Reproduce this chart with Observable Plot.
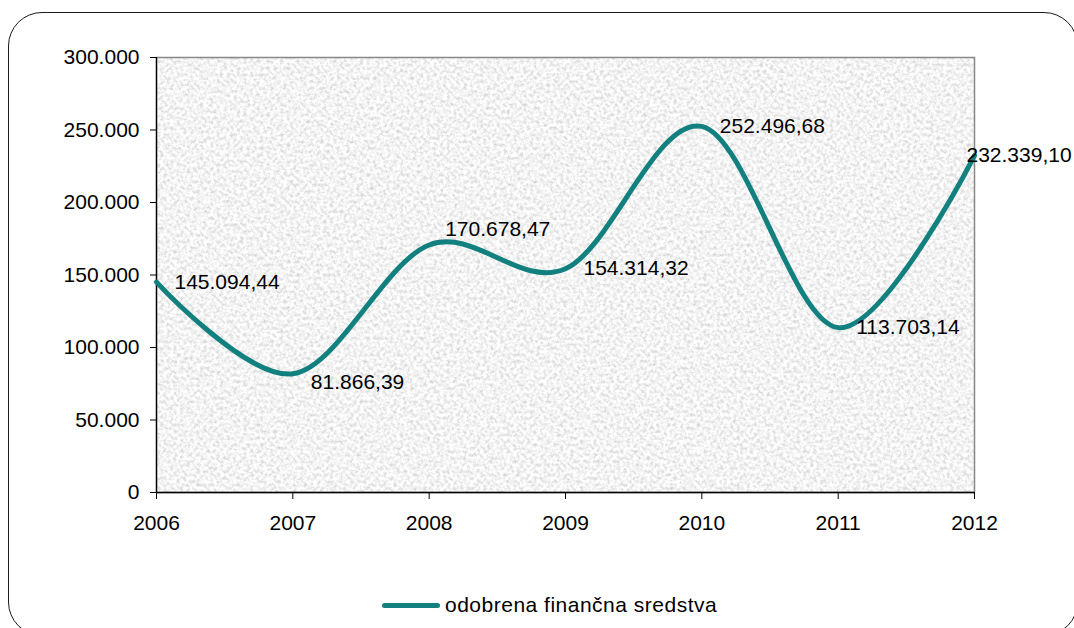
<!DOCTYPE html>
<html>
<head>
<meta charset="utf-8">
<script src="https://cdn.jsdelivr.net/npm/d3@7"></script>
<script src="https://cdn.jsdelivr.net/npm/@observablehq/plot@0.6"></script>
<style>
  html, body { margin: 0; padding: 0; background: #fff; overflow: hidden; }
  body { width: 1074px; height: 628px; position: relative; font-family: "Liberation Sans", Arial, sans-serif; }
  #border { position: absolute; left: 8px; top: 12px; width: 1070px; height: 624px; box-sizing: border-box;
            border: 1.5px solid #1a1a1a; border-radius: 34px; }
  #chart { position: absolute; left: 0; top: 0; }
  #legend { position: absolute; left: 382px; top: 590px; height: 30px; display: flex; align-items: center;
            font-size: 21px; color: #000; letter-spacing: 0.5px; }
  #legend .swatch { width: 58px; height: 5px; border-radius: 3px; margin-right: 5px; }
</style>
</head>
<body>
<div id="border"></div>
<div id="chart"></div>
<div id="legend"></div>
<script>
// ---- data ----
const years = [2006, 2007, 2008, 2009, 2010, 2011, 2012];
const values = [145094.44, 81866.39, 170678.47, 154314.32, 252496.68, 113703.14, 232339.10];
const yTicks = [0, 50000, 100000, 150000, 200000, 250000, 300000];
const seriesName = "odobrena finančna sredstva";

// ---- styling ----
const lineColor = "#12807e";
const FS = 21;
const locale = d3.formatLocale({decimal: ",", thousands: ".", grouping: [3], currency: ["", ""]});
const fmtInt = locale.format(",.0f");
const fmtVal = locale.format(",.2f");

const data = years.map((year, i) => ({year, value: values[i]}));

// per-label nudges (pixels) relative to default placement right of the point
const labelNudge = {2007: [0, 8], 2008: [-2, -16], 2012: [-26, 0]};
const labelMarks = data.map(d => {
  const [ox, oy] = labelNudge[d.year] || [0, 0];
  return Plot.text([d], {
    x: "year", y: "value", text: d => fmtVal(d.value),
    textAnchor: "start", dx: 18 + ox, dy: oy, fontSize: FS, fill: "#000"
  });
});

const chart = Plot.plot({
  width: 1074,
  height: 580,
  marginLeft: 156,
  marginRight: 100,
  marginTop: 57,
  marginBottom: 88,
  style: {fontFamily: "Liberation Sans, Arial, sans-serif", fontSize: FS + "px", color: "#000", background: "transparent", overflow: "visible"},
  x: {domain: [2006, 2012]},
  y: {domain: [0, 300000]},
  marks: [
    Plot.frame({fill: "#e4e4e4"}),
    Plot.frame({stroke: "#888", strokeWidth: 1.5}),
    Plot.ruleY([0], {stroke: "#000", strokeWidth: 1.3}),
    Plot.ruleX([2006], {stroke: "#000", strokeWidth: 1.3}),
    Plot.axisY({ticks: yTicks, tickFormat: fmtInt, tickSize: 6, tickPadding: 11, label: null, fontSize: FS, stroke: "#000"}),
    Plot.axisX({ticks: years, tickFormat: d => String(d), tickSize: 7, tickPadding: 16, label: null, fontSize: FS, stroke: "#000"}),
    Plot.line(data, {x: "year", y: "value", curve: "cardinal", tension: 0, stroke: lineColor, strokeWidth: 5, strokeLinejoin: "round", strokeLinecap: "round"}),
    ...labelMarks
  ]
});

// granite-like texture for the plot area
const svg = d3.select(chart);
const defs = svg.insert("defs", ":first-child");
const filt = defs.append("filter").attr("id", "granite")
  .attr("x", 0).attr("y", 0).attr("width", 1).attr("height", 1)
  .attr("filterUnits", "objectBoundingBox");
filt.append("feTurbulence").attr("type", "fractalNoise").attr("baseFrequency", 0.3)
  .attr("numOctaves", 4).attr("seed", 7).attr("result", "noise");
filt.append("feColorMatrix").attr("in", "noise").attr("type", "matrix")
  .attr("values", "0.7 0 0 0 0.55  0.7 0 0 0 0.55  0.7 0 0 0 0.55  0 0 0 0 1");
const frames = svg.selectAll("[aria-label='frame']").nodes();
if (frames.length) {
  const f = frames[0];
  const target = f.tagName.toLowerCase() === "rect" ? f : f.querySelector("rect");
  if (target) target.setAttribute("filter", "url(#granite)");
}

document.getElementById("chart").appendChild(chart);

const legend = document.getElementById("legend");
const sw = document.createElement("div");
sw.className = "swatch";
sw.style.background = lineColor;
legend.appendChild(sw);
const lt = document.createElement("span");
lt.textContent = seriesName;
legend.appendChild(lt);
</script>
</body>
</html>
